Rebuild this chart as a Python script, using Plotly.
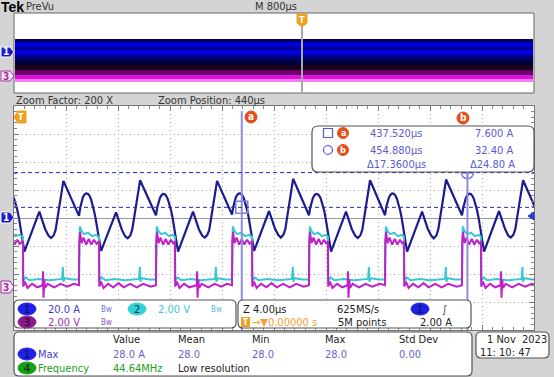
import plotly.graph_objects as go

# Channel 1 (current, A) zoom window 420..460 us
ch1_time_us = [
    419.10, 419.20, 419.30, 419.40, 419.52, 419.65, 419.78, 419.90, 420.02, 420.14, 420.26, 420.38, 420.50, 420.60, 420.70, 420.80, 421.95, 422.15, 422.40, 422.65, 422.85, 423.05, 423.20, 423.80,
    425.00, 425.10, 425.20, 425.30, 425.42, 425.55, 425.68, 425.80, 425.92, 426.04, 426.16, 426.28, 426.40, 426.50, 426.60, 426.70, 427.85, 428.05, 428.30, 428.55, 428.75, 428.95, 429.10, 429.70,
    430.92, 431.02, 431.12, 431.22, 431.34, 431.47, 431.60, 431.72, 431.84, 431.96, 432.08, 432.20, 432.32, 432.42, 432.52, 432.62, 433.77, 433.97, 434.22, 434.47, 434.67, 434.87, 435.02, 435.62,
    436.77, 436.87, 436.97, 437.07, 437.19, 437.32, 437.45, 437.57, 437.69, 437.81, 437.93, 438.05, 438.17, 438.27, 438.37, 438.47, 439.62, 439.82, 440.07, 440.32, 440.52, 440.72, 440.87, 441.47,
    442.69, 442.79, 442.89, 442.99, 443.11, 443.24, 443.37, 443.49, 443.61, 443.73, 443.85, 443.97, 444.09, 444.19, 444.29, 444.39, 445.54, 445.74, 445.99, 446.24, 446.44, 446.64, 446.79, 447.39,
    448.54, 448.64, 448.74, 448.84, 448.96, 449.09, 449.22, 449.34, 449.46, 449.58, 449.70, 449.82, 449.94, 450.04, 450.14, 450.24, 451.39, 451.59, 451.84, 452.09, 452.29, 452.49, 452.64, 453.24,
    454.46, 454.56, 454.66, 454.76, 454.88, 455.01, 455.14, 455.26, 455.38, 455.50, 455.62, 455.74, 455.86, 455.96, 456.06, 456.16, 457.31, 457.51, 457.76, 458.01, 458.21, 458.41, 458.56, 459.16,
    460.35, 460.45,
]
ch1_current_a = [
    2, 7.5, 11.5, 14.2, 16.2, 17.2, 17.0, 15.8, 13.5, 10, 5.5, 0, -7, -14, -20, -24, 4.5, -1.5, -8, -12.5, -14.3, -12.5, -8.5, 26.5,
    1.5, 7.5, 12, 14.8, 16.8, 17.6, 17.3, 16, 13.5, 10, 5, -0.5, -7.5, -14.5, -20, -23.5, 4, -2, -8.5, -13, -14.5, -12.5, -8, 27,
    2, 7.5, 11.5, 14.2, 16.2, 17.2, 17.0, 15.6, 13.2, 9.8, 5.5, 0, -7, -14, -20.5, -24, 4.5, -1.5, -8, -12.5, -14, -12, -8.5, 26.5,
    2.5, 8, 12, 14.8, 16.8, 17.6, 17.4, 16.2, 13.8, 10.2, 5.8, 0.5, -6.5, -13.5, -19.5, -23.5, 5, -1, -7.5, -12, -14, -12, -8, 28,
    2, 7.5, 11.5, 14.2, 16.2, 17.2, 17.0, 15.8, 13.5, 10, 5.5, 0, -7, -14, -20, -24, 4.5, -1.5, -8, -12.5, -14.3, -12.5, -8.5, 27,
    2, 8, 12, 14.6, 16.6, 17.5, 17.3, 16, 13.6, 10, 5.5, 0, -7, -14, -20.5, -24, 4.5, -1.5, -8, -12.5, -14.5, -12.5, -8, 27.5,
    2, 7.5, 11.5, 14.4, 16.4, 17.3, 17.1, 15.8, 13.5, 10, 5.5, 0, -7, -14, -20, -24, 5, -1, -7.5, -12.5, -14, -12, -8, 27,
    2, 7.5,
]

# Channel 3 (magenta, V)
ch3_time_us = [
    419.10, 419.12, 419.18, 419.30, 419.45, 419.65, 419.85, 420.05, 420.25, 420.45, 420.69, 420.71, 420.84, 421.04, 421.39, 421.79, 422.20, 422.23, 422.27, 422.33, 422.39, 422.59, 423.09, 423.59, 424.09, 424.60,
    425.00, 425.02, 425.08, 425.20, 425.35, 425.55, 425.75, 425.95, 426.15, 426.35, 426.54, 426.56, 426.69, 426.89, 427.24, 427.64, 428.04, 428.44, 428.94, 429.44, 429.94, 430.52,
    430.92, 430.94, 431.00, 431.12, 431.27, 431.47, 431.67, 431.87, 432.07, 432.27, 432.38, 432.40, 432.53, 432.73, 433.08, 433.48, 434.05, 434.08, 434.12, 434.18, 434.24, 434.44, 434.94, 435.44, 435.94, 436.37,
    436.77, 436.79, 436.85, 436.97, 437.12, 437.32, 437.52, 437.72, 437.92, 438.12, 438.31, 438.33, 438.46, 438.66, 439.01, 439.41, 439.81, 440.21, 440.71, 441.21, 441.71, 442.29,
    442.69, 442.71, 442.77, 442.89, 443.04, 443.24, 443.44, 443.64, 443.84, 444.04, 444.15, 444.17, 444.30, 444.50, 444.85, 445.25, 445.66, 445.69, 445.73, 445.79, 445.85, 446.05, 446.55, 447.05, 447.55, 448.14,
    448.54, 448.56, 448.62, 448.74, 448.89, 449.09, 449.29, 449.49, 449.69, 449.89, 450.00, 450.02, 450.15, 450.35, 450.70, 451.10, 451.50, 451.90, 452.40, 452.90, 453.40, 454.06,
    454.46, 454.48, 454.54, 454.66, 454.81, 455.01, 455.21, 455.41, 455.61, 455.81, 455.92, 455.94, 456.07, 456.27, 456.62, 457.02, 457.43, 457.46, 457.50, 457.56, 457.62, 457.82, 458.32, 458.82, 459.32, 459.82, 460.35,
]
ch3_volt = [
    0.2, 3.3, 4.0, 3.2, 3.6, 3.1, 3.5, 3.1, 3.45, 3.15, 3.35, 0.1, 0.45, 0.0, 0.3, 0.05, 0.2, 1.2, -0.7, 0.6, 0.0, 0.3, 0.05, 0.3, 0.1, 0.3,
    0.2, 3.3, 4.0, 3.2, 3.6, 3.1, 3.5, 3.1, 3.45, 3.15, 3.35, 0.1, 0.45, 0.0, 0.3, 0.05, 0.35, 0.05, 0.3, 0.05, 0.3, 0.1,
    0.2, 3.3, 4.0, 3.2, 3.6, 3.1, 3.5, 3.1, 3.45, 3.15, 3.35, 0.1, 0.45, 0.0, 0.3, 0.05, 0.2, 1.2, -0.7, 0.6, 0.0, 0.3, 0.05, 0.3, 0.1, 0.3,
    0.2, 3.3, 4.0, 3.2, 3.6, 3.1, 3.5, 3.1, 3.45, 3.15, 3.35, 0.1, 0.45, 0.0, 0.3, 0.05, 0.35, 0.05, 0.3, 0.05, 0.3, 0.1,
    0.2, 3.3, 4.0, 3.2, 3.6, 3.1, 3.5, 3.1, 3.45, 3.15, 3.35, 0.1, 0.45, 0.0, 0.3, 0.05, 0.2, 1.2, -0.7, 0.6, 0.0, 0.3, 0.05, 0.3, 0.1, 0.3,
    0.2, 3.3, 4.0, 3.2, 3.6, 3.1, 3.5, 3.1, 3.45, 3.15, 3.35, 0.1, 0.45, 0.0, 0.3, 0.05, 0.35, 0.05, 0.3, 0.05, 0.3, 0.1,
    0.2, 3.3, 4.0, 3.2, 3.6, 3.1, 3.5, 3.1, 3.45, 3.15, 3.35, 0.1, 0.45, 0.0, 0.3, 0.05, 0.2, 1.2, -0.7, 0.6, 0.0, 0.3, 0.05, 0.3, 0.1, 0.3, 0.2,
]

# Channel 2 (cyan, V)
ch2_time_us = [
    419.10, 419.12, 419.16, 419.30, 419.50, 419.80, 420.10, 420.40, 420.69, 420.71, 420.89, 421.19, 421.89, 422.69, 423.70, 423.76, 423.80, 423.90, 424.50, 425.00,
    425.02, 425.06, 425.20, 425.40, 425.70, 426.00, 426.30, 426.54, 426.56, 426.74, 427.04, 427.74, 428.54, 429.62, 429.68, 429.72, 429.82, 430.42, 430.92,
    430.94, 430.98, 431.12, 431.32, 431.62, 431.92, 432.22, 432.38, 432.40, 432.58, 432.88, 433.58, 434.38, 435.47, 435.53, 435.57, 435.67, 436.27, 436.77,
    436.79, 436.83, 436.97, 437.17, 437.47, 437.77, 438.07, 438.31, 438.33, 438.51, 438.81, 439.51, 440.31, 441.39, 441.45, 441.49, 441.59, 442.19, 442.69,
    442.71, 442.75, 442.89, 443.09, 443.39, 443.69, 443.99, 444.15, 444.17, 444.35, 444.65, 445.35, 446.15, 447.24, 447.30, 447.34, 447.44, 448.04, 448.54,
    448.56, 448.60, 448.74, 448.94, 449.24, 449.54, 449.84, 450.00, 450.02, 450.20, 450.50, 451.20, 452.00, 453.16, 453.22, 453.26, 453.36, 453.96, 454.46,
    454.48, 454.52, 454.66, 454.86, 455.16, 455.46, 455.76, 455.92, 455.94, 456.12, 456.42, 457.12, 457.92, 459.05, 459.11, 459.15, 459.25, 459.85, 460.35,
]
ch2_volt = [
    0.6, 3.8, 4.4, 4.05, 3.85, 3.95, 3.7, 3.8, 3.65, 0.5, 0.75, 0.55, 0.65, 0.55, 0.65, 1.5, 0.45, 0.7, 0.6, 0.6,
    3.8, 4.4, 4.05, 3.85, 3.95, 3.7, 3.8, 3.65, 0.5, 0.75, 0.55, 0.65, 0.55, 0.65, 1.5, 0.45, 0.7, 0.6, 0.6,
    3.8, 4.4, 4.05, 3.85, 3.95, 3.7, 3.8, 3.65, 0.5, 0.75, 0.55, 0.65, 0.55, 0.65, 1.5, 0.45, 0.7, 0.6, 0.6,
    3.8, 4.4, 4.05, 3.85, 3.95, 3.7, 3.8, 3.65, 0.5, 0.75, 0.55, 0.65, 0.55, 0.65, 1.5, 0.45, 0.7, 0.6, 0.6,
    3.8, 4.4, 4.05, 3.85, 3.95, 3.7, 3.8, 3.65, 0.5, 0.75, 0.55, 0.65, 0.55, 0.65, 1.5, 0.45, 0.7, 0.6, 0.6,
    3.8, 4.4, 4.05, 3.85, 3.95, 3.7, 3.8, 3.65, 0.5, 0.75, 0.55, 0.65, 0.55, 0.65, 1.5, 0.45, 0.7, 0.6, 0.6,
    3.8, 4.4, 4.05, 3.85, 3.95, 3.7, 3.8, 3.65, 0.5, 0.75, 0.55, 0.65, 0.55, 0.65, 1.5, 0.45, 0.7, 0.6, 0.6,
]

# Cursors
cursor_time_us = [437.520, 454.880]
cursor_current_a = [7.600, 32.40]
x_range_us = [420, 460]
ch1_range_a = [-80, 80]
volt_range = [-3, 13]

# ---------------- layout helpers (pixel -> paper) ----------------
L, R, T, B = 14, 534, 106, 330
W, H = 554, 377
def PX(x):
    return (x - L) / (R - L)
def PY(y):
    return (B - y) / (B - T)

FONT = "Liberation Sans Narrow, DejaVu Sans Condensed, Arial Narrow, Liberation Sans, sans-serif"
shapes = []
ann = []

def rect(x0, y0, x1, y1, fill, line=None, lw=1, layer="above"):
    shapes.append(dict(type="rect", xref="paper", yref="paper", x0=PX(x0), x1=PX(x1), y0=PY(y1), y1=PY(y0),
                       fillcolor=fill, line=dict(color=line or fill, width=lw if line else 0), layer=layer))

def rrect(x0, y0, x1, y1, r, fill="white", line="#555", lw=1.2):
    p = (f"M {PX(x0+r)},{PY(y0)} L {PX(x1-r)},{PY(y0)} Q {PX(x1)},{PY(y0)} {PX(x1)},{PY(y0+r)} "
         f"L {PX(x1)},{PY(y1-r)} Q {PX(x1)},{PY(y1)} {PX(x1-r)},{PY(y1)} L {PX(x0+r)},{PY(y1)} "
         f"Q {PX(x0)},{PY(y1)} {PX(x0)},{PY(y1-r)} L {PX(x0)},{PY(y0+r)} Q {PX(x0)},{PY(y0)} {PX(x0+r)},{PY(y0)} Z")
    shapes.append(dict(type="path", xref="paper", yref="paper", path=p, fillcolor=fill,
                       line=dict(color=line, width=lw), layer="above"))

def poly(pts, fill, line=None, lw=1):
    p = "M " + " L ".join(f"{PX(x)},{PY(y)}" for x, y in pts) + " Z"
    shapes.append(dict(type="path", xref="paper", yref="paper", path=p, fillcolor=fill,
                       line=dict(color=line or fill, width=lw), layer="above"))

def ellipse(cx, cy, rx, ry, fill, line=None, lw=1):
    shapes.append(dict(type="circle", xref="paper", yref="paper", x0=PX(cx-rx), x1=PX(cx+rx),
                       y0=PY(cy+ry), y1=PY(cy-ry), fillcolor=fill,
                       line=dict(color=line or fill, width=lw), layer="above"))

def txt(x, y, s, color="#222", size=11, anchor="left", bold=False, family=FONT):
    ann.append(dict(x=PX(x), y=PY(y), xref="paper", yref="paper", text=(f"<b>{s}</b>" if bold else s),
                    showarrow=False, xanchor=anchor, yanchor="middle", borderpad=0,
                    font=dict(family=family, size=size, color=color)))

# ---------------- header / preview ----------------
txt(0, 7, "Tek", "#000", 14, bold=True, family="Liberation Sans, Arial, sans-serif")
txt(25, 7, "PreVu", "#333", 11)
txt(298, 7, "M 800µs", "#333", 11, anchor="right")
rect(14, 13, 534, 93, "white", "#666", 1)
bands = [(39, 42, "#000058"), (42, 47, "#0000d8"), (47, 50, "#000090"), (50, 55, "#0000e0"),
         (55, 60, "#00007a"), (60, 65, "#000040"), (65, 70, "#1c001c"), (70, 75, "#6a006a"),
         (75, 79, "#e010e0"), (79, 82, "#f080f0")]
for y0, y1, c in bands:
    rect(15, y0, 533, y1, c)
shapes.append(dict(type="line", xref="paper", yref="paper", x0=PX(302), x1=PX(302), y0=PY(92), y1=PY(14),
                   line=dict(color="#a8a8a8", width=2), layer="above"))
poly([(297, 14), (307, 14), (307, 23), (302, 27), (297, 23)], "#f0a020")
txt(302, 19.5, "T", "white", 9, anchor="center", bold=True)
poly([(1, 47), (10, 47), (14, 52), (10, 57), (1, 57)], "#1a1ad0", "white", 1)
txt(6, 52, "1", "white", 10, anchor="center", bold=True)
poly([(1, 71), (10, 71), (14, 76), (10, 81), (1, 81)], "#fbe8fb", "#a030a0", 1)
txt(6, 76, "3", "#a030a0", 10, anchor="center", bold=True)

txt(15, 100, "Zoom Factor: 200 X", "#333", 11)
txt(157, 100, "Zoom Position: 440µs", "#333", 11)

# ---------------- main graticule overlays ----------------
shapes.append(dict(type="line", xref="x", yref="paper", x0=cursor_time_us[0], x1=cursor_time_us[0],
                   y0=0, y1=PY(111), line=dict(color="#8c8ce8", width=2), layer="above"))
shapes.append(dict(type="line", xref="x", yref="paper", x0=cursor_time_us[1], x1=cursor_time_us[1],
                   y0=0, y1=PY(172), line=dict(color="#8c8ce8", width=2), layer="above"))
for v in cursor_current_a:
    shapes.append(dict(type="line", xref="paper", yref="y", x0=0, x1=1, y0=v, y1=v,
                       line=dict(color="#2a2ab4", width=1, dash="4px,3px"), layer="above"))

poly([(14, 117), (18, 111), (26, 111), (26, 123), (18, 123)], "#f0a020")
txt(21, 117, "T", "white", 9, anchor="center", bold=True)
poly([(1, 212), (10, 212), (14, 217.5), (10, 223), (1, 223)], "#1a1ad0", "white", 1)
txt(6, 217.5, "1", "white", 10, anchor="center", bold=True)
poly([(1, 281), (10, 281), (14, 287), (10, 293), (1, 293)], "#fbe8fb", "#a030a0", 1)
txt(6, 287, "3", "#a030a0", 10, anchor="center", bold=True)
poly([(528, 216), (534, 212), (534, 220)], "#2040d0")

ellipse(251, 117, 6, 6, "#e4501c")
txt(251, 116.5, "a", "white", 10, anchor="center", bold=True)
ellipse(463, 118, 6, 6, "#e4501c")
txt(463, 117.5, "b", "white", 10, anchor="center", bold=True)

CUR = "#5a5ad2"
rrect(312, 126, 534, 172, 6)
rect(323.5, 128.5, 332.5, 137.5, "white", CUR, 1.2)
ellipse(343, 133, 5.5, 5.5, "#e4501c")
txt(343, 132.5, "a", "white", 9, anchor="center", bold=True)
ellipse(328, 150, 4.5, 4.5, "white", CUR, 1.2)
ellipse(343, 150, 5.5, 5.5, "#e4501c")
txt(343, 149.5, "b", "white", 9, anchor="center", bold=True)
txt(396, 133, "437.520µs", CUR, 11, anchor="center")
txt(396, 150, "454.880µs", CUR, 11, anchor="center")
txt(396, 164, "Δ17.3600µs", CUR, 11, anchor="center")
txt(514, 133, "7.600 A", CUR, 11, anchor="right")
txt(514, 150, "32.40 A", CUR, 11, anchor="right")
txt(516, 164, "Δ24.80 A", CUR, 11, anchor="right")

# ---------------- bottom panels ----------------
rrect(14, 300, 236, 328, 5)
ellipse(27, 309, 9, 6, "#1f1fe6")
txt(27, 309, "1", "#101040", 11, anchor="center")
txt(47, 309, "20.0 A", "#3c3cc8", 11)
txt(100, 309, "Bw", "#7070d0", 8)
ellipse(137, 309, 9, 6, "#34d0d8")
txt(137, 309, "2", "#103040", 11, anchor="center")
txt(157, 309, "2.00 V", "#40c8d0", 11)
txt(210, 309, "Bw", "#60c0d8", 8)
ellipse(27, 322, 9, 6, "#8a1a8a")
txt(27, 322, "3", "#200020", 11, anchor="center")
txt(47, 322, "2.00 V", "#a030a8", 11)
txt(100, 322, "Bw", "#9050c0", 8)

rrect(238, 300, 471, 328, 5)
txt(242, 309, "Z 4.00µs", "#222", 11)
txt(336, 309, "625MS/s", "#222", 11)
ellipse(420, 309, 9, 6, "#1f1fe6")
txt(420, 309, "1", "#101040", 11, anchor="center")
txt(441, 309, "∫", "#444", 11)
rect(241, 317, 250, 327, "#f0a020")
txt(245.5, 322, "T", "white", 8, anchor="center", bold=True)
txt(251, 322, "→▼0.00000 s", "#f0a030", 11)
txt(337, 322, "5M points", "#222", 11)
txt(453, 322, "2.00 A", "#222", 11, anchor="right")

rrect(14, 332, 472, 376, 5)
MV = "#6464d2"
for x, s in [(112, "Value"), (177, "Mean"), (251, "Min"), (324, "Max"), (398, "Std Dev")]:
    txt(x, 339, s, "#222", 11)
ellipse(27, 354, 9, 6, "#1f1fe6")
txt(27, 354, "1", "#101040", 11, anchor="center")
txt(37, 354, "Max", "#3c3cc8", 11)
for x, s in [(112, "28.0 A"), (177, "28.0"), (251, "28.0"), (324, "28.0"), (398, "0.00")]:
    txt(x, 354, s, MV, 11)
ellipse(27, 368, 9, 6, "#14a014")
txt(27, 368, "4", "#062006", 11, anchor="center")
txt(37, 368, "Frequency", "#22a022", 11)
txt(112, 368, "44.64MHz", "#22a022", 11)
txt(177, 368, "Low resolution", "#222", 11)

rrect(476, 332, 549, 358, 5)
txt(486, 339, "1 Nov", "#222", 11)
txt(548, 339, "2023", "#222", 11, anchor="right")
txt(479, 352, "11: 10: 47", "#222", 11)

# ---------------- traces ----------------
fig = go.Figure()
fig.add_trace(go.Scatter(x=ch2_time_us, y=ch2_volt, yaxis="y2", mode="lines",
                         line=dict(color="#38c8d4", width=2), hoverinfo="skip"))
fig.add_trace(go.Scatter(x=ch3_time_us, y=ch3_volt, yaxis="y2", mode="lines",
                         line=dict(color="#c020c8", width=2), hoverinfo="skip"))
fig.add_trace(go.Scatter(x=ch1_time_us, y=ch1_current_a, mode="lines",
                         line=dict(color="#1c1c8e", width=2.2), hoverinfo="skip"))
fig.add_trace(go.Scatter(x=cursor_time_us, y=cursor_current_a, mode="markers",
                         marker=dict(symbol=["square-open", "circle-cross-open"], size=12,
                                     color="#7c7ce0", line=dict(width=1.5)), hoverinfo="skip"))

axis_common = dict(showticklabels=False, ticks="inside", ticklen=5, tickcolor="#777",
                   showline=True, linecolor="#777", linewidth=1, mirror="ticks",
                   showgrid=True, gridcolor="#a8a8a8", griddash="1px,3px", gridwidth=1,
                   fixedrange=True)
fig.update_layout(
    width=W, height=H, margin=dict(l=L, r=W - R, t=T, b=H - B),
    paper_bgcolor="#d4d4d4", plot_bgcolor="white", showlegend=False,
    xaxis=dict(range=x_range_us, tick0=420, dtick=4, zeroline=False,
               minor=dict(dtick=0.8, ticks="inside", ticklen=3, tickcolor="#888", showgrid=False),
               **axis_common),
    yaxis=dict(range=ch1_range_a, tick0=-80, dtick=20, zeroline=True, zerolinecolor="#9a9a9a",
               zerolinewidth=1,
               minor=dict(dtick=4, ticks="inside", ticklen=3, tickcolor="#888", showgrid=False),
               **axis_common),
    yaxis2=dict(range=volt_range, overlaying="y", visible=False, fixedrange=True),
    shapes=shapes, annotations=ann,
)
fig.write_html("out.html", config={"displayModeBar": False},
               post_script="document.body.style.margin='0';document.body.style.overflow='hidden';")
